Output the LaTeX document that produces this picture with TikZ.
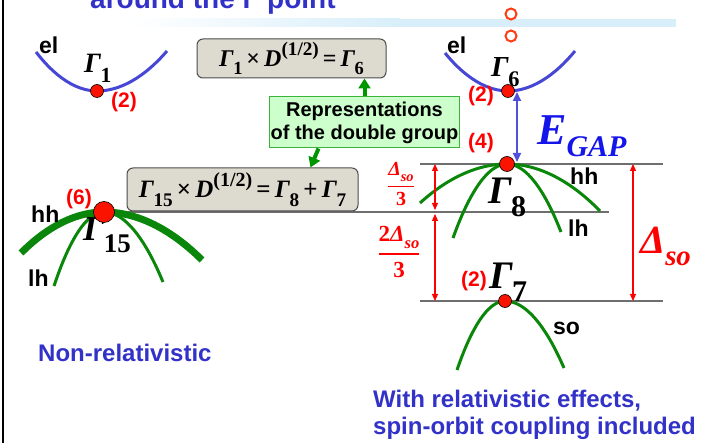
\documentclass[tikz,border=0pt]{standalone}
\usepackage{fontspec}
\usepackage{amsmath}
\setmainfont{Liberation Sans}
\newfontfamily\tms{Liberation Serif}
\usetikzlibrary{arrows.meta,calc}
\definecolor{elblue}{RGB}{70,70,215}
\definecolor{bandgreen}{RGB}{10,135,10}
\definecolor{dotred}{RGB}{250,20,0}
\definecolor{labred}{RGB}{255,0,0}
\definecolor{txtblue}{RGB}{50,50,200}
\definecolor{gapblue}{RGB}{20,20,235}
\definecolor{gaparrowblue}{RGB}{80,80,220}
\definecolor{boxgray}{RGB}{221,219,208}
\definecolor{repgreen}{RGB}{204,255,204}
\definecolor{repedge}{RGB}{60,180,60}
\definecolor{arrowgreen}{RGB}{0,150,0}
\definecolor{levelgray}{RGB}{110,110,110}
\definecolor{barblue}{RGB}{216,238,250}
\definecolor{ringred}{RGB}{255,60,20}

\newcommand{\Gm}[1]{\textit{Γ}\kern-0.02em\raisebox{-0.33em}{\scalebox{0.77}{#1}}}
\newcommand{\Dso}{\textit{Δ}\raisebox{-0.3em}{\scalebox{0.72}{\textit{so}}}}
\newcommand{\sps}[1]{\raisebox{0.45em}{\scalebox{0.8}{#1}}}

\begin{document}
\begin{tikzpicture}[x=1pt, y=-1pt,
  elband/.style={elblue, line width=3pt},
  hhthick/.style={bandgreen, line width=7pt},
  bandline/.style={bandgreen, line width=3pt},
  level/.style={levelgray, line width=1.5pt},
  dot/.style={circle, draw=black, line width=0.6pt, fill=dotred, inner sep=0pt, minimum size=#1},
  dot/.default=13pt,
  deg/.style={text=labred, font=\bfseries\fontsize{21}{21}\selectfont, inner sep=0pt},
  bandlab/.style={font=\bfseries\fontsize{23}{23}\selectfont, anchor=base west, inner sep=0pt},
  gam/.style={font=\tms\bfseries\fontsize{#1}{#1}\selectfont, anchor=base west, inner sep=0pt},
  formula/.style={draw=black!70, fill=boxgray, rounded corners=6pt, line width=1pt, font=\tms\bfseries\fontsize{#1}{#1}\selectfont},
  repbox/.style={draw=repedge, fill=repgreen, line width=1pt, align=center, inner sep=1pt, font=\bfseries\fontsize{20}{23}\selectfont},
  greenarrow/.style={arrowgreen, line width=4pt, -{Triangle[length=10pt,width=12pt]}},
  gaparrow/.style={gaparrowblue, line width=2pt, {Triangle[length=9pt,width=8pt]}-{Triangle[length=9pt,width=8pt]}},
  soarrow/.style={labred, line width=1.2pt, {Triangle[length=7pt,width=6pt]}-{Triangle[length=7pt,width=6pt]}},
  fracl/.style={text=labred, inner sep=0pt, font=\tms\bfseries\fontsize{#1}{#1}\selectfont},
  caption/.style={text=txtblue, font=\bfseries\fontsize{24}{27}\selectfont, align=left, anchor=base west, inner sep=0pt}
]
\useasboundingbox (0,0) rectangle (713,443);

% frame and header
\draw[line width=2pt] (3,0) -- (3,443);
\shade[left color=white, right color=barblue] (130,19) rectangle (400,27);
\fill[barblue] (400,19) rectangle (676,27);
\node[anchor=base west, inner sep=0pt, text=txtblue, font=\bfseries\fontsize{28}{28}\selectfont] (title) at (90,8.5) {around the Γ point};
\draw[ringred, line width=2pt] (511,14) circle (5.5pt) (511,36) circle (5.5pt);

% band extrema
\coordinate (G1) at (97,91);
\coordinate (G6) at (508,91);
\coordinate (G15) at (104,212);
\coordinate (G8) at (507,164);
\coordinate (G7) at (505,301);

% levels
\draw[level] (128,212) -- (609,212);
\draw[level] (420,164) -- (663,164);
\draw[level] (420,301) -- (663,301);

% bands
\draw[elband] (36,52) parabola bend (G1) (167,51);
\draw[elband] (445,53) parabola bend (G6) (575,51);
\draw[hhthick] (21,253) parabola bend (G15) (202,260);
\draw[bandline] (54,286) parabola bend (G15) (163,282);
\draw[bandline] (420,203) parabola bend (G8) (600,211);
\draw[bandline] (453,238) parabola bend (G8) (561,232);
\draw[bandline] (457,370) parabola bend (G7) (564,368);

\node[gam=28] (n1) at (84,73) {\Gm{1}};
\node[gam=29] (n6) at (491,77) {\Gm{6}};
\node[gam=35] (n15) at (83,241) {\Gm{15}};
\node[gam=39] (n8) at (488,204) {\Gm{8}};
\node[gam=39] (n7) at (489,289) {\Gm{7}};

\node[dot] (g1) at (G1) {};
\node[dot] (g6) at (G6) {};
\node[dot=21pt] (g15) at (G15) {};
\node[dot=15pt] (g8) at (G8) {};
\node[dot] (g7) at (G7) {};

% band labels
\node[bandlab] (el1) at (39,54) {el};
\node[bandlab] (el2) at (447,54) {el};
\node[bandlab] (hh1) at (31,223) {hh};
\node[bandlab] (lh1) at (28,287) {lh};
\node[bandlab] (hh2) at (570,185) {hh};
\node[bandlab] (lh2) at (568,237) {lh};
\node[bandlab] (so) at (553,335) {so};

\node[deg] (d1) at (124,102) {(2)};
\node[deg] (d6) at (481,96) {(2)};
\node[deg] (d15) at (79,199) {(6)};
\node[deg] (d8) at (481,143) {(4)};
\node[deg] (d7) at (474,281) {(2)};

% formulas
\node[formula=24, minimum width=189pt, minimum height=39pt] (box1) at (291.5,58.5) {\Gm{1}\,×\,\textit{D}\sps{(1/2)}\,=\,\Gm{6}};
\node[repbox, minimum width=189pt, minimum height=51pt] (rep) at (364.5,122.5) {Representations\\of the double group};
\node[formula=25, minimum width=231pt, minimum height=43pt] (box2) at (242.5,189.5) {\Gm{15}\,×\,\textit{D}\sps{(1/2)}\,=\,\Gm{8}\,+\,\Gm{7}};

\draw[greenarrow] (rep.north) -- (rep.north |- box1.south);
\draw[greenarrow] ($(rep.south)+(-46,0)$) -- ($(box2.north)+(68,0)$);

% gap
\coordinate (gapT) at (517,92);
\coordinate (gapB) at (517,162);
\draw[gaparrow] (gapT) -- (gapB);
\node[anchor=base west, inner sep=0pt, text=gapblue, font=\tms\bfseries\itshape\fontsize{44}{44}\selectfont] (egap) at (537,145) {E\raisebox{-12pt}{\fontsize{30}{30}\selectfont GAP}};

% spin-orbit splitting
\coordinate (so1) at (435,164);
\coordinate (so2) at (435,212);
\coordinate (so3) at (435,301);
\coordinate (sr1) at (633,164);
\coordinate (sr2) at (633,301);
\draw[soarrow] (so1) -- ($(so2)+(0,-2)$);
\draw[soarrow] ($(so2)+(0,2)$) -- (so3);
\draw[soarrow] (sr1) -- (sr2);

\node[fracl=20] (fr1) at (401,184) {$\genfrac{}{}{1.5pt}{0}{\mbox{\Dso}}{\mbox{3}}$};
\node[fracl=23] (fr2) at (399,252) {$\genfrac{}{}{1.5pt}{0}{\mbox{2\Dso}}{\mbox{3}}$};
\node[anchor=base west, inner sep=0pt, text=labred, font=\tms\bfseries\fontsize{40}{40}\selectfont] (dso) at (640,254) {\Dso};

% captions
\node[caption] (nonrel) at (38,362) {Non-relativistic};
\node[caption] (rel) at (373,435) {With relativistic effects,\\spin-orbit coupling included};
\end{tikzpicture}
\end{document}
